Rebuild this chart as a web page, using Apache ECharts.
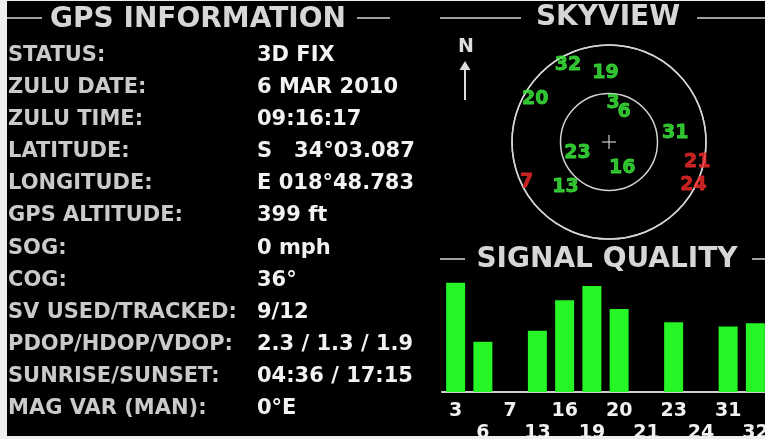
<!DOCTYPE html>
<html>
<head>
<meta charset="utf-8">
<script src="https://cdn.jsdelivr.net/npm/echarts@6/dist/echarts.min.js"></script>
<style>
  html, body { margin: 0; padding: 0; background: #eeeeee; }
  #main { width: 765px; height: 439px; }
</style>
</head>
<body>
<div id="main"></div>
<script>
// left panel rows
var infoLabels = ['STATUS:', 'ZULU DATE:', 'ZULU TIME:', 'LATITUDE:', 'LONGITUDE:', 'GPS ALTITUDE:',
  'SOG:', 'COG:', 'SV USED/TRACKED:', 'PDOP/HDOP/VDOP:', 'SUNRISE/SUNSET:', 'MAG VAR (MAN):'];
var infoValues = ['3D FIX', '6 MAR 2010', '09:16:17', 'S   34\u00b003.087', 'E 018\u00b048.783', '399 ft',
  '0 mph', '36\u00b0', '9/12', '2.3 / 1.3 / 1.9', '04:36 / 17:15', '0\u00b0E'];

// satellites (same order for sky view and signal bars)
var satIds = ['3', '6', '7', '13', '16', '19', '20', '21', '23', '24', '31', '32'];
var satSnr = [50, 23, 0, 28, 42, 48.5, 38, 0, 32, 0, 30, 31.5];
var satAzimuth = [6, 27, 244, 224, 153, 357, 300, 103, 251, 117, 82, 332];
var satElevation = [54, 59, 5, 32, 63, 26, 11, 6, 59, 2, 28, 9];

var FONT = '"DejaVu Sans", "Liberation Sans", sans-serif';
var GREEN = '#26f526';
var LABEL_GREEN = '#3cec3c';
var RED = '#f02a2a';
var LINE = '#d4d4d4';

var chart = echarts.init(document.getElementById('main'));

var skyData = satIds.map(function (id, i) {
  var c = satSnr[i] > 0 ? LABEL_GREEN : RED;
  return {
    name: id,
    value: [satElevation[i], satAzimuth[i]],
    label: { color: c, textBorderColor: c, textBorderWidth: 0.8 }
  };
});

function heading(text, cx, cy) {
  return {
    type: 'text', x: cx, y: cy, z: 5,
    style: { text: text, fill: '#d6d6d6', fontFamily: FONT, fontWeight: 'bold', fontSize: 28,
      align: 'center', verticalAlign: 'middle' }
  };
}
function hline(x1, x2, y) {
  return { type: 'line', z: 5, shape: { x1: x1, y1: y, x2: x2, y2: y },
    style: { stroke: LINE, lineWidth: 1.5 } };
}

var graphics = [
  { type: 'rect', z: -10, shape: { x: 7, y: 1, width: 758, height: 435 }, style: { fill: '#000' } },
  heading('GPS INFORMATION', 198, 20),
  hline(7, 42, 18), hline(357, 390, 18),
  heading('SKYVIEW', 608, 18),
  hline(440, 521, 18), hline(697, 765, 18),
  heading('SIGNAL QUALITY', 607, 260),
  hline(440, 465, 259), hline(752, 765, 259),
  // north marker
  { type: 'text', x: 466, y: 47, z: 5,
    style: { text: 'N', fill: '#dddddd', fontFamily: FONT, fontWeight: 'bold', fontSize: 19,
      align: 'center', verticalAlign: 'middle' } },
  { type: 'line', z: 5, shape: { x1: 465, y1: 100, x2: 465, y2: 68 }, style: { stroke: '#dddddd', lineWidth: 2 } },
  { type: 'polygon', z: 5, shape: { points: [[465, 61], [459.5, 70], [470.5, 70]] }, style: { fill: '#dddddd' } },
  // centre cross
  { type: 'line', z: 5, shape: { x1: 602, y1: 142, x2: 616, y2: 142 }, style: { stroke: '#cccccc', lineWidth: 1.2 } },
  { type: 'line', z: 5, shape: { x1: 609, y1: 135, x2: 609, y2: 149 }, style: { stroke: '#cccccc', lineWidth: 1.2 } }
];

infoLabels.forEach(function (t, i) {
  var y = 55.5 + 32.1 * i;
  graphics.push({
    type: 'text', x: 8, y: y, z: 5,
    style: { text: t, fill: '#cacaca', fontFamily: FONT, fontWeight: 'bold', fontSize: 21,
      align: 'left', verticalAlign: 'middle' }
  });
  graphics.push({
    type: 'text', x: 257, y: y, z: 5,
    style: { text: infoValues[i], fill: '#f2f2f2', fontFamily: FONT, fontWeight: 'bold', fontSize: 21,
      align: 'left', verticalAlign: 'middle' }
  });
});

var option = {
  backgroundColor: '#eeeeee',
  animation: false,
  graphic: { elements: graphics },
  polar: { center: [609, 142], radius: 97 },
  angleAxis: {
    type: 'value', min: 0, max: 360, startAngle: 90, clockwise: true,
    axisLine: { show: true, lineStyle: { color: LINE, width: 1.5 } },
    axisTick: { show: false }, axisLabel: { show: false }, splitLine: { show: false }
  },
  radiusAxis: {
    type: 'value', min: 0, max: 90, interval: 45, inverse: true,
    axisLine: { show: false }, axisTick: { show: false }, axisLabel: { show: false },
    splitLine: { show: true, lineStyle: { color: LINE, width: 1.5 } }
  },
  grid: { left: 442, top: 261, width: 327, height: 131, containLabel: false, outerBoundsMode: 'none' },
  xAxis: {
    type: 'category', data: satIds,
    axisLine: { show: true, lineStyle: { color: '#cfcfcf', width: 2 } },
    axisTick: { show: false },
    axisLabel: {
      interval: 0, margin: 8, color: '#f0f0f0', fontFamily: FONT, fontWeight: 'bold', fontSize: 19,
      lineHeight: 22,
      formatter: function (v, i) { return i % 2 ? '\n' + v : v; }
    }
  },
  yAxis: { type: 'value', min: 0, max: 60, show: false },
  series: [
    {
      type: 'bar', data: satSnr, barWidth: 19,
      itemStyle: { color: GREEN }
    },
    {
      type: 'scatter', coordinateSystem: 'polar', data: skyData, symbolSize: 0,
      label: {
        show: true, position: 'inside', formatter: '{b}',
        fontFamily: FONT, fontWeight: 'bold', fontSize: 19
      }
    }
  ]
};

chart.setOption(option);
</script>
</body>
</html>
